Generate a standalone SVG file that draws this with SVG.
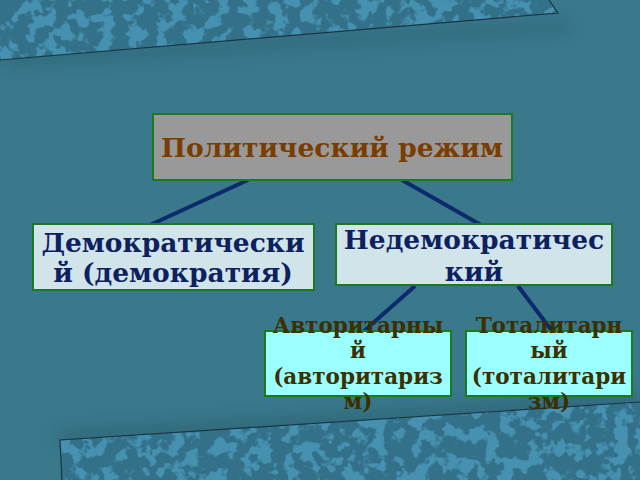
<svg xmlns="http://www.w3.org/2000/svg" width="640" height="480" viewBox="0 0 640 480">
<defs>
<filter id="tex" x="0" y="0" width="100%" height="100%" color-interpolation-filters="sRGB">
<feTurbulence type="fractalNoise" baseFrequency="0.07" numOctaves="3" seed="4" result="n"/>
<feColorMatrix in="n" type="matrix" values="0 0 0 0 0.28  0 0 0 0 0.57  0 0 0 0 0.69  0 0 0 10 -4.9" result="spots"/>
<feComposite in="spots" in2="SourceGraphic" operator="in" result="sp"/>
<feMerge><feMergeNode in="SourceGraphic"/><feMergeNode in="sp"/></feMerge>
</filter>
<filter id="sh" x="-20%" y="-50%" width="140%" height="200%">
<feGaussianBlur stdDeviation="8"/>
</filter>
<style>
.conn{stroke:#0c2a6c;stroke-width:4;fill:none;stroke-linecap:butt}
.box{stroke:#1b7a1b;stroke-width:2}
.t1{font-family:"DejaVu Serif",serif;font-weight:bold;font-size:26.5px;fill:#7a3d00;text-anchor:middle}
.t2{font-family:"DejaVu Serif",serif;font-weight:bold;font-size:26.5px;fill:#0d2060;text-anchor:middle}
.t3{font-family:"DejaVu Serif",serif;font-weight:bold;font-size:21.5px;fill:#3a3000;text-anchor:middle}
</style>
</defs>
<rect width="640" height="480" fill="#3a788c"/>
<g id="top-band">
<polygon points="0,55 565,22 575,30 10,65" fill="#1e4d5c" opacity="0.4" filter="url(#sh)"/>
<polygon points="0,0 549,0 558,13 0,60" fill="#33708a" filter="url(#tex)"/>
<polyline points="0,60 558,13 549,0" fill="none" stroke="#1b3640" stroke-width="1.2"/>
</g>
<g id="bottom-band">
<polygon points="55,432 640,395 640,410 65,445" fill="#1e4d5c" opacity="0.4" filter="url(#sh)"/>
<polygon points="60,480 60,440 640,402 640,480" fill="#33708a" filter="url(#tex)"/>
<polyline points="62,480 60,440 640,402" fill="none" stroke="#1b3640" stroke-width="1.2"/>
</g>
<g id="connectors">
<line class="conn" x1="248" y1="180" x2="150" y2="225"/>
<line class="conn" x1="402" y1="180" x2="481" y2="225"/>
<line class="conn" x1="415" y1="286" x2="364" y2="331"/>
<line class="conn" x1="518" y1="286" x2="552" y2="331"/>
</g>
<g id="n-root">
<rect class="box" x="153" y="114" width="359" height="66" fill="#999999"/>
<text class="t1" x="332" y="157">Политический режим</text>
</g>
<g id="n-demo">
<rect class="box" x="33" y="224" width="281" height="66" fill="#d0e4ea"/>
<text class="t2" x="173" y="252">Демократически</text>
<text class="t2" x="173" y="282">й (демократия)</text>
</g>
<g id="n-nondemo">
<rect class="box" x="336" y="224" width="276" height="61" fill="#d0e4ea"/>
<text class="t2" x="474" y="249">Недемократичес</text>
<text class="t2" x="474" y="281">кий</text>
</g>
<g id="n-auth">
<rect class="box" x="265" y="331" width="186" height="65" fill="#9bffff"/>
<text class="t3" x="358" y="333">Авторитарны</text>
<text class="t3" x="358" y="358">й</text>
<text class="t3" x="358" y="384">(авторитариз</text>
<text class="t3" x="358" y="409">м)</text>
</g>
<g id="n-total">
<rect class="box" x="466" y="331" width="166" height="65" fill="#9bffff"/>
<text class="t3" x="549" y="333">Тоталитарн</text>
<text class="t3" x="549" y="358">ый</text>
<text class="t3" x="549" y="384">(тоталитари</text>
<text class="t3" x="549" y="409">зм)</text>
</g>
</svg>
